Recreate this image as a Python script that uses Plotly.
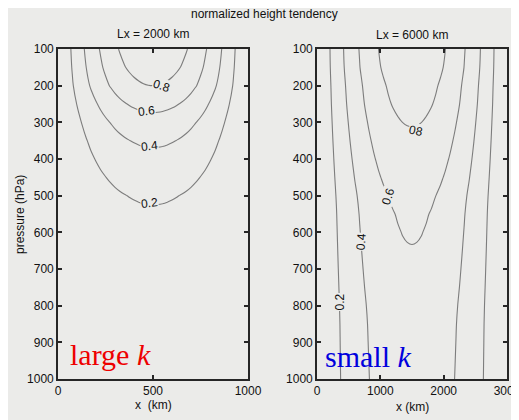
import plotly.graph_objects as go

# ---- data ----
pressure = [100, 150, 200, 250, 300, 350, 400, 450, 500, 550,
            600, 650, 700, 750, 800, 850, 900, 950, 1000]

# vertical profile of normalized height tendency at mid-trough (x = L/2)
profile_large_k = [0.95, 0.89, 0.80, 0.66, 0.53, 0.43, 0.35, 0.28, 0.22, 0.18,
                   0.15, 0.12, 0.10, 0.08, 0.065, 0.05, 0.04, 0.03, 0.02]
profile_small_k = [0.94, 0.92, 0.88, 0.85, 0.81, 0.77, 0.73, 0.69, 0.65, 0.625,
                   0.61, 0.595, 0.58, 0.565, 0.55, 0.54, 0.535, 0.53, 0.525]

# horizontal shape across the half wavelength (41 evenly spaced points)
x_shape = [0.0, 0.079, 0.156, 0.233, 0.309, 0.383, 0.454, 0.523, 0.588, 0.649,
           0.707, 0.760, 0.809, 0.853, 0.891, 0.924, 0.951, 0.972, 0.988, 0.997,
           1.0,
           0.997, 0.988, 0.972, 0.951, 0.924, 0.891, 0.853, 0.809, 0.760, 0.707,
           0.649, 0.588, 0.523, 0.454, 0.383, 0.309, 0.233, 0.156, 0.079, 0.0]

x_left = [i * 25 for i in range(41)]      # 0 .. 1000 km
x_right = [i * 75 for i in range(41)]     # 0 .. 3000 km

contour_levels = [0.2, 0.4, 0.6, 0.8]
left_title = "Lx = 2000 km"
right_title = "Lx = 6000 km"
x_ticks_left = [0, 500, 1000]
x_ticks_right = [0, 1000, 2000, 3000]
y_ticks = [100, 200, 300, 400, 500, 600, 700, 800, 900, 1000]

# contour label placements (x km, p hPa, angle)
labels_left = [("0.8", 547, 201, 18), ("0.6", 468, 269, -6),
               ("0.4", 484, 365, -6), ("0.2", 484, 520, -6)]
labels_right = [("08", 1570, 324, 12), ("0.6", 1130, 502, -72),
                ("0.4", 706, 625, -86), ("0.2", 361, 789, -90)]

z_left = [[p * s for s in x_shape] for p in profile_large_k]
z_right = [[p * s for s in x_shape] for p in profile_small_k]

BG = "#ebebe9"
LINE = "#7d7d7d"
FRAME = "#262626"
TXT = "#111111"
FONT = "Liberation Sans, Arial, sans-serif"
SERIF = "Liberation Serif, Times New Roman, serif"

# the page body has an 8 px margin: the figure starts at screen (8, 8)
W, H, OFF = 511, 412, 8


def px(X):
    return (X - OFF) / W


def py(Y):
    return 1 - (Y - OFF) / H


def contour(x, z, xa, ya):
    return go.Contour(
        x=x, y=pressure, z=z, xaxis=xa, yaxis=ya,
        contours=dict(start=contour_levels[0], end=contour_levels[-1], size=0.2,
                      coloring="none", showlabels=False),
        line=dict(color=LINE, width=1.1, smoothing=1.0),
        showscale=False, hoverinfo="skip",
    )


def note(text, X, Y, size=12, color=TXT, family=FONT, angle=0):
    return dict(text=text, x=px(X), y=py(Y), xref="paper", yref="paper",
                xanchor="center", yanchor="middle", textangle=angle,
                showarrow=False, font=dict(size=size, color=color, family=family))


fig = go.Figure()
fig.add_trace(contour(x_left, z_left, "x", "y"))
fig.add_trace(contour(x_right, z_right, "x2", "y2"))

ydom = [py(379), py(49)]
axis_common = dict(showline=True, mirror="ticks", linecolor=FRAME, linewidth=1.6,
                   ticks="inside", ticklen=4, tickcolor=FRAME, tickwidth=1.6,
                   showgrid=False, zeroline=False, automargin=False,
                   ticklabeloverflow="allow",
                   tickfont=dict(size=12, color=TXT, family=FONT))

annotations = [
    note("normalized height tendency", 264, 14),
    note(left_title, 153, 34),
    note(right_title, 412, 35),
    note("pressure (hPa)", 20, 215, angle=-90),
    note("x  (km)", 153, 405),
    note("x (km)", 412, 407),
    note("large <i>k</i>", 110, 354, size=30, color="#ee0000", family=SERIF),
    note("small <i>k</i>", 368, 356, size=30, color="#0000dd", family=SERIF),
]
for txt, xv, pv, ang in labels_left:
    annotations.append(dict(text=txt, x=xv, y=pv, xref="x", yref="y", textangle=ang,
                            xanchor="center", yanchor="middle",
                            showarrow=False, bgcolor=BG, borderpad=0,
                            font=dict(size=12, color=TXT, family=FONT)))
for txt, xv, pv, ang in labels_right:
    annotations.append(dict(text=txt, x=xv, y=pv, xref="x2", yref="y2", textangle=ang,
                            xanchor="center", yanchor="middle",
                            showarrow=False, bgcolor=BG, borderpad=0,
                            font=dict(size=12, color=TXT, family=FONT)))

fig.update_layout(
    width=W, height=H,
    margin=dict(l=0, r=0, t=0, b=0),
    paper_bgcolor=BG, plot_bgcolor=BG,
    showlegend=False,
    xaxis=dict(domain=[px(58), px(248)], range=[0, 1000], tickvals=x_ticks_left,
               anchor="y", **axis_common),
    yaxis=dict(domain=ydom, range=[1000, 100], tickvals=y_ticks, anchor="x", **axis_common),
    xaxis2=dict(domain=[px(317), px(507)], range=[0, 3000], tickvals=x_ticks_right,
                anchor="y2", **axis_common),
    yaxis2=dict(domain=ydom, range=[1000, 100], tickvals=y_ticks, anchor="x2",
                **axis_common),
    annotations=annotations,
)

fig.write_html("out.html")
